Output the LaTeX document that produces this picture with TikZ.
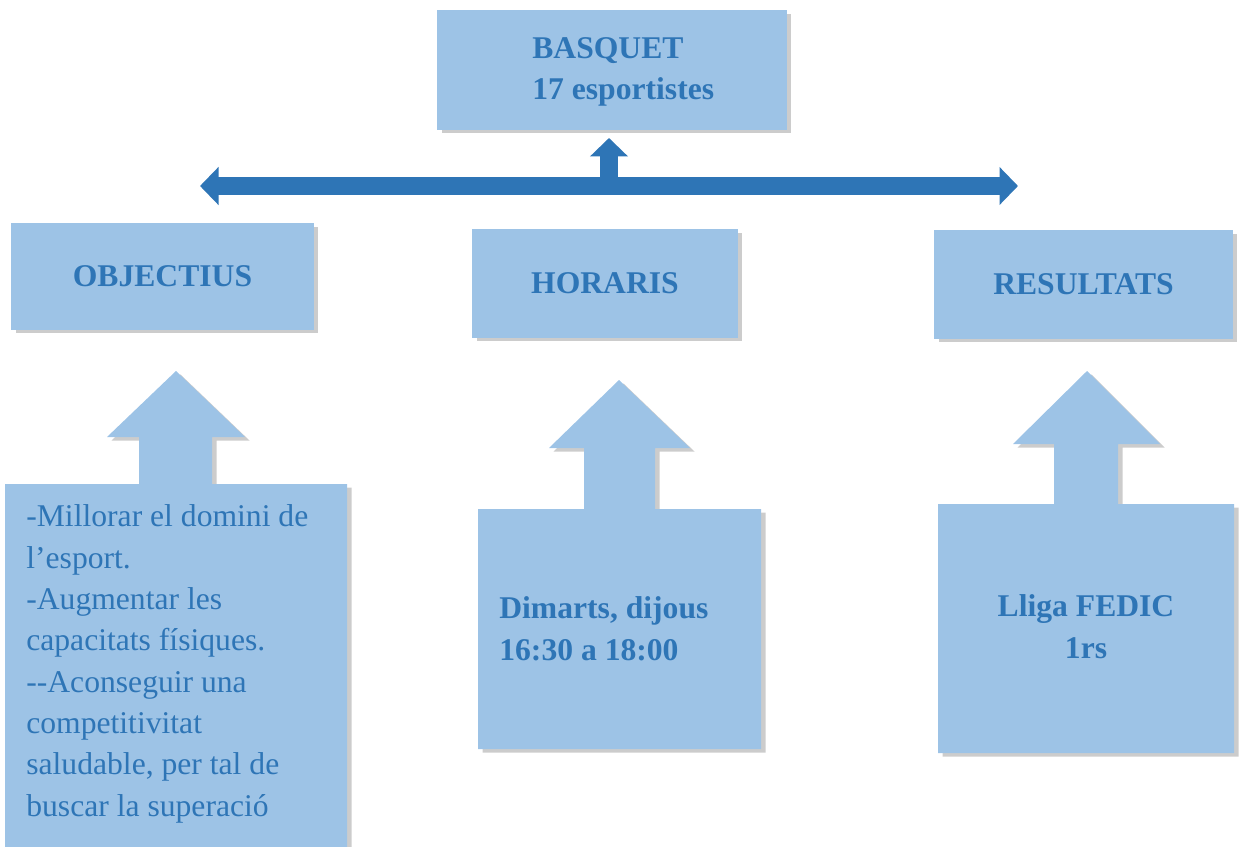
\documentclass[tikz,border=0pt]{standalone}
\usepackage{fontspec}
\setmainfont{Liberation Serif}
\usepackage{xcolor}
\usepackage{tikz}
\usetikzlibrary{shadows,arrows.meta}
\definecolor{boxblue}{RGB}{157, 195, 230}
\definecolor{darkblue}{RGB}{46, 117, 182}

\begin{document}
\begin{tikzpicture}[x=0.02cm, y=-0.02cm,
    box/.style={fill=boxblue, draw=none, inner sep=0pt, outer sep=0pt,
      drop shadow={shadow xshift=0.09cm, shadow yshift=-0.07cm, opacity=0.4}},
    title/.style={font=\fontsize{18}{23.5}\selectfont\bfseries, text=darkblue, inner sep=0pt},
    body/.style={font=\fontsize{18}{23.5}\selectfont, text=darkblue, align=left, inner sep=0pt},
    bar/.style={draw=darkblue, line width=0.36cm, >={Triangle[length=0.37cm, width=0.74cm]}}]
      \useasboundingbox (0,0) rectangle (1239,847);
      % Label: "BASQUET" box on top
      \node[box, minimum width=7cm, minimum height=2.4cm] (basquet) at (612,70) {};
      \node[title, align=left, anchor=base west] (basquettxt) at (532,100) {BASQUET\\17 esportistes};
      % header boxes
      \node[box, title, minimum width=6.06cm, minimum height=2.14cm] (objectius) at (162.5,276.5) {OBJECTIUS};
      \node[box, title, minimum width=5.32cm, minimum height=2.18cm] (horaris) at (605,283.5) {HORARIS};
      \node[box, title, minimum width=5.98cm, minimum height=2.18cm] (resultats) at (1083.5,284.5) {RESULTATS};
      % up arrow callouts
      \foreach \bl/\br/\bt/\bb/\sl/\sr/\hy/\hl/\hr/\tx/\ty in {
        5/347/484/870/139/212/437/107/245/176/371,
        478/761/509/749/584/655/448/549/690/619/380,
        938/1234/504/753/1054/1118/444/1013/1160/1087/371} {
          \path[box] (\bl,\bb) -- (\bl,\bt) -- (\sl,\bt) -- (\sl,\hy) -- (\hl,\hy)
            -- (\tx,\ty) -- (\hr,\hy) -- (\sr,\hy) -- (\sr,\bt) -- (\br,\bt) -- (\br,\bb) -- cycle;
        }
      % callout texts (anchored at the last line)
      \node[body, anchor=base west] (objtxt) at (26,816) {-Millorar el domini de\\l’esport.\\-Augmentar les\\capacitats físiques.\\-{}-Aconseguir una\\competitivitat\\saludable, per tal de\\buscar la superació};
      \node[title, align=left, anchor=base west] (hortxt) at (499,660) {Dimarts, dijous\\16:30 a 18:00};
      \node[title, align=center, anchor=base] (restxt) at (1086,658) {Lliga FEDIC\\1rs};
      % double arrow and arrow up
      \coordinate (barL) at (200,186);
      \coordinate (barR) at (1018,186);
      \coordinate (barmid) at (609,186);
      \draw[bar, <->] (barL) -- (barR);
      \draw[bar, ->, shorten >=0.16cm] (barmid) -- (barmid |- basquet.south);
    \end{tikzpicture}
\end{document}
